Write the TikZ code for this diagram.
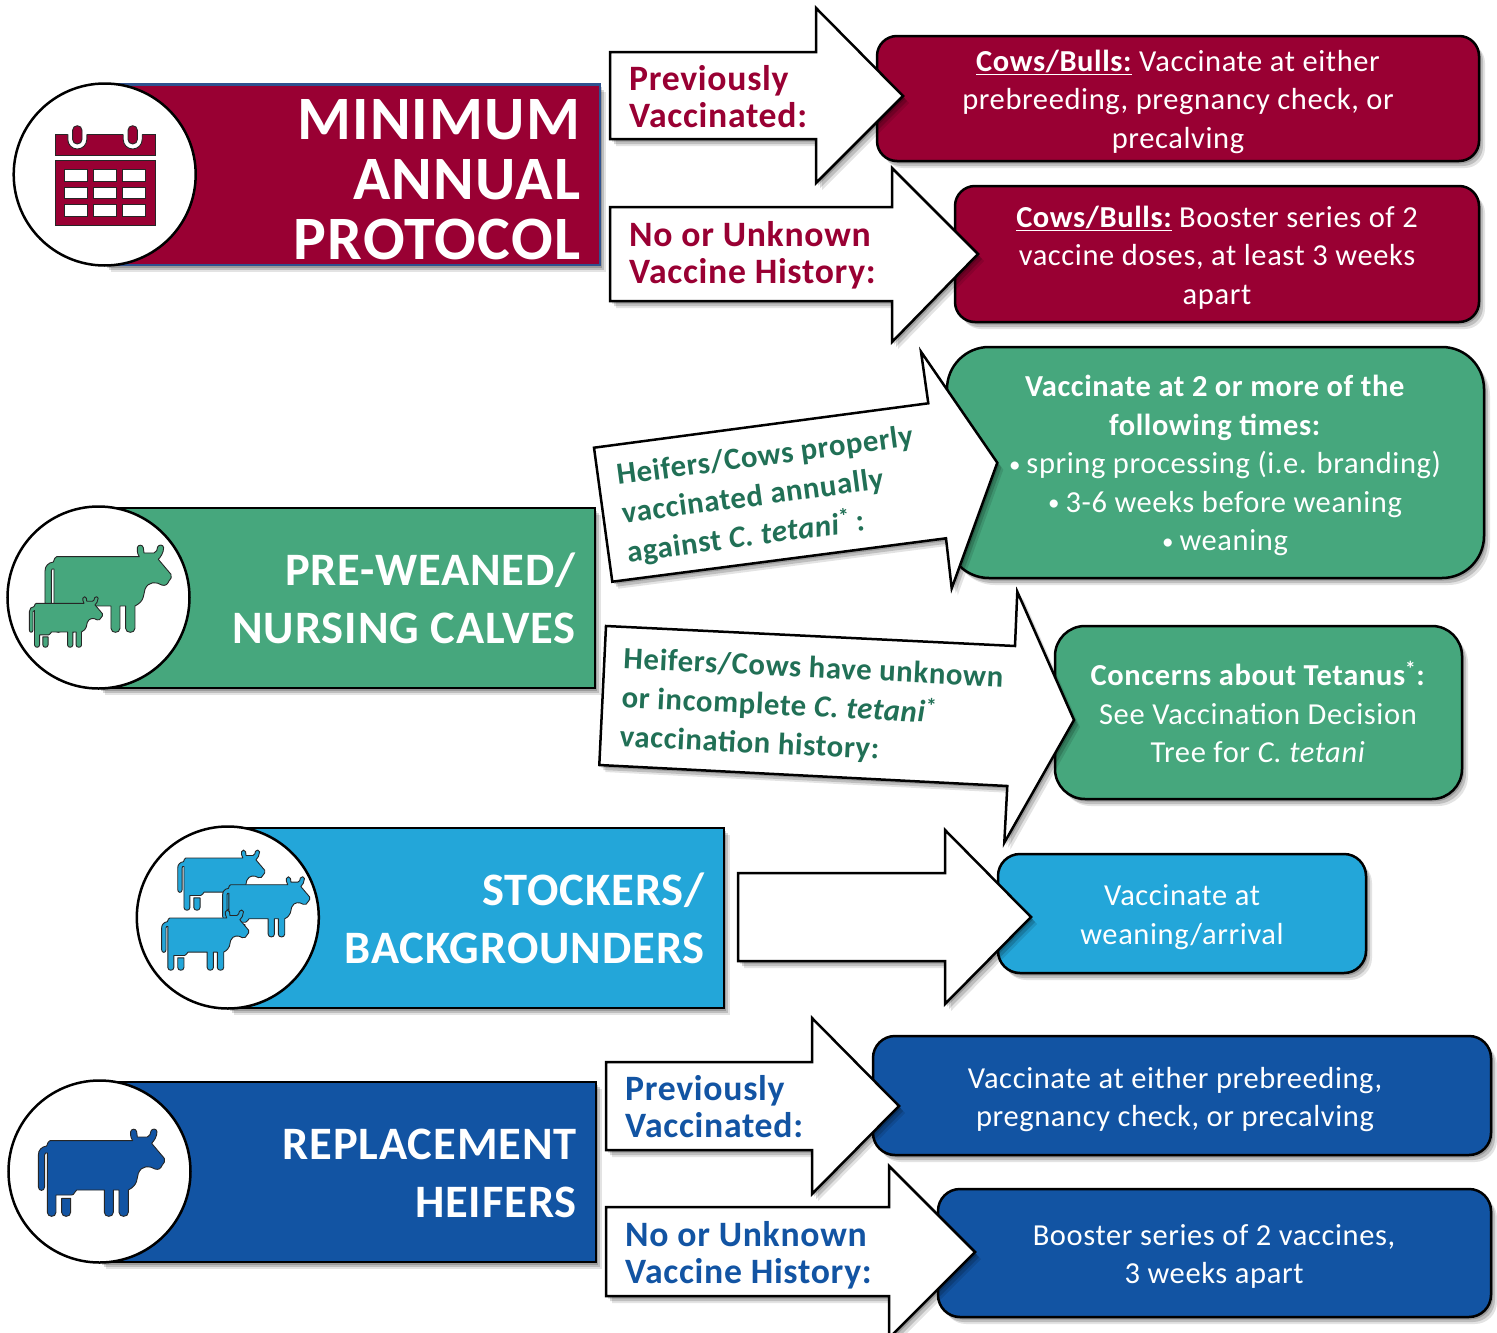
\documentclass[tikz,border=0pt]{standalone}
\usepackage{fontspec}
\setmainfont[LetterSpace=2]{Carlito}
\usetikzlibrary{shadows}
\definecolor{cred}{RGB}{153,0,51}
\definecolor{cgreen}{RGB}{70,167,125}
\definecolor{cgreentxt}{RGB}{33,112,86}
\definecolor{clight}{RGB}{35,166,217}
\definecolor{cdark}{RGB}{18,84,163}
\definecolor{cborder}{RGB}{47,82,143}
\tikzset{
  x=1pt,y=-1pt,
  softshadow/.style={
    general shadow={shadow xshift=2pt,shadow yshift=-2.5pt,fill=black,opacity=.18},
    general shadow={shadow xshift=4pt,shadow yshift=-5pt,fill=black,opacity=.16},
    general shadow={shadow xshift=6pt,shadow yshift=-7pt,fill=black,opacity=.11}},
  bar/.style={softshadow,draw=black,line width=2.5pt},
  disc/.style={draw=black,line width=2.5pt,fill=white},
  infobox/.style={softshadow,draw=black,line width=2.5pt},
  arrowshape/.style={softshadow,draw=black,line width=2.5pt,fill=white,line join=miter,miter limit=10},
  bartitle/.style={anchor=east,align=right,text=white,font=\bfseries\fontsize{46.5}{58}\selectfont,inner sep=0pt},
  boxtext/.style={align=center,text=white,font=\fontsize{30.5}{38.5}\selectfont,inner sep=0pt},
  arrowtext/.style={anchor=west,align=left,font=\bfseries\fontsize{35.7}{37}\selectfont,inner sep=0pt},
  slanttext/.style={anchor=west,align=left,text=cgreentxt,font=\bfseries\fontsize{30.8}{39}\selectfont,inner sep=0pt},
  iconline/.style={draw=black!85,line width=.9pt},
}
\newcommand{\cowicon}[4]{%
\begin{scope}[shift={(#1,#2)},scale=#3]
\draw[iconline,fill=#4,line join=round]
 (150,197) -- (398,197) .. controls (390,185) and (392,175) .. (392,170) .. controls (394,160) and (408,160) .. (410,170) -- (412,186) -- (442,186) .. controls (450,184) and (452,175) .. (453,168) .. controls (456,160) and (470,160) .. (471,170) .. controls (471,185) and (462,198) .. (455,205) -- (493,250) .. controls (497,258) and (492,265) .. (487,270) .. controls (482,282) and (475,285) .. (465,282) .. controls (450,272) and (425,270) .. (415,295) .. controls (410,310) and (415,330) .. (385,345) -- (385,412) .. controls (385,428) and (357,428) .. (357,412) -- (357,345) -- (340,345) -- (340,412) .. controls (340,428) and (313,428) .. (313,412) -- (313,345) -- (230,345) .. controls (222,348) and (225,360) .. (215,360) -- (168,360) -- (168,412) .. controls (168,428) and (142,428) .. (142,412) -- (142,234) .. controls (138,232) and (134,234) .. (134,240) -- (134,335) .. controls (134,350) and (115,350) .. (115,335) -- (115,240) .. controls (115,225) and (125,215) .. (140,213) .. controls (143,205) and (145,197) .. (150,197) -- cycle
 (185,370) -- (212,370) -- (212,412) .. controls (212,428) and (185,428) .. (185,412) -- cycle;
\end{scope}}
\newcommand{\calcell}[2]{\draw[iconline,fill=white] (#1,#2) rectangle ++(23,11.4);}
\newcommand{\bul}{\raisebox{1.5pt}{\fontsize{23}{23}\selectfont •}\hspace{6pt}}
\begin{document}
\begin{tikzpicture}
\useasboundingbox (0,0) rectangle (1497,1333);
\clip (0,0) rectangle (1497,1333);
\fill[white] (0,0) rectangle (1497,1333);

% header bars
\path[bar,fill=cred,draw=cborder] (105,84.5) rectangle (600,265);
\path[bar,fill=cgreen] (99,508) rectangle (595,688);
\path[bar,fill=clight] (228,828) rectangle (724,1008);
\path[bar,fill=cdark] (100,1082) rectangle (596,1262);
\draw[disc] (104.7,174.5) circle (91);
\draw[disc] (98.5,597.5) circle (91);
\draw[disc] (227.8,917.5) circle (91);
\draw[disc] (99.5,1171.5) circle (91);

% calendar icon
\draw[iconline,fill=cred] (55,134.3) rectangle (155,155);
\draw[iconline,fill=cred] (55,160.7) rectangle (155,225);
\foreach \cx in {64.3,93.7,122.7}{\foreach \cy in {169.7,187.3,204.7}{\calcell{\cx}{\cy}}}
\foreach \rx in {77.3,132.7}{
  \fill[white] (\rx-9.5,133) -- (\rx-9.5,139.5) arc[start angle=180,end angle=0,radius=9.5] -- (\rx+9.5,133) -- cycle;
  \draw[iconline] (\rx-9.5,134.3) -- (\rx-9.5,139.5) arc[start angle=180,end angle=0,radius=9.5] -- (\rx+9.5,134.3);
  \draw[iconline,fill=cred,rounded corners=4.6pt] (\rx-4.7,125.7) rectangle (\rx+4.7,144);
}

% cows
\cowicon{6.67}{491}{.3333}{cgreen}
\cowicon{7.1}{565.3}{.1933}{cgreen}
\cowicon{151.3}{812.7}{.23}{clight}
\cowicon{196.2}{839.4}{.23}{clight}
\cowicon{135.2}{872.7}{.23}{clight}
\cowicon{0}{1075}{.3333}{cdark}

% boxes
\path[infobox,fill=cred,rounded corners=20pt] (877,36) rectangle (1479,161);
\path[infobox,fill=cred,rounded corners=20pt] (955,186) rectangle (1479,322);
\path[infobox,fill=cgreen,rounded corners=42pt] (947,347) rectangle (1484,578);
\path[infobox,fill=cgreen,rounded corners=30pt] (1055,626) rectangle (1462,799);
\path[infobox,fill=clight,rounded corners=22pt] (998,854) rectangle (1366,973);
\path[infobox,fill=cdark,rounded corners=22pt] (873,1036) rectangle (1491,1155);
\path[infobox,fill=cdark,rounded corners=22pt] (938,1189) rectangle (1491,1317);

% block arrows
\path[arrowshape] (610,52) -- (816,52) -- (816,8) -- (903,96) -- (816,183) -- (816,139) -- (610,139) -- cycle;
\path[arrowshape] (610,207) -- (892,207) -- (892,168) -- (978,254) -- (892,342) -- (892,301) -- (610,301) -- cycle;
\path[arrowshape] (594,447.7) -- (928.3,403.3) -- (921,351.7) -- (997.3,462.7) -- (951.7,588.3) -- (946,538.3) -- (612.3,581.7) -- cycle;
\path[arrowshape] (606,626) -- (1015,646) -- (1017.3,591.7) -- (1074,720) -- (1004.3,842.7) -- (1007.3,786) -- (599.3,765) -- cycle;
\path[arrowshape] (738,873) -- (945,873) -- (945,830) -- (1031,917) -- (945,1004) -- (945,961) -- (738,961) -- cycle;
\path[arrowshape] (606,1062) -- (812,1062) -- (812,1018) -- (899,1106) -- (812,1194) -- (812,1150) -- (606,1150) -- cycle;
\path[arrowshape] (606,1207) -- (889,1207) -- (889,1166) -- (975,1252) -- (889,1338) -- (889,1296) -- (606,1296) -- cycle;

% titles
\node[bartitle,font=\bfseries\fontsize{61.7}{60}\selectfont] (t1) at (580.5,179.5) {MINIMUM\\ANNUAL\\PROTOCOL};
\node[bartitle] (t2) at (576,598) {PRE-WEANED/\\NURSING CALVES};
\node[bartitle] (t3) at (705,918) {STOCKERS/\\BACKGROUNDERS};
\node[bartitle] (t4) at (577,1173) {REPLACEMENT\\HEIFERS};

% arrow labels
\node[arrowtext,text=cred] (a1) at (629,96.5) {Previously\\Vaccinated:};
\node[arrowtext,text=cred] (a2) at (629,255.5) {No or Unknown\\Vaccine History:};
\node[slanttext,rotate=7.6] (a3) at (622,515.5) {Heifers/Cows properly\\vaccinated annually\\against \textit{C. tetani}\textsuperscript{*}\,:};
\node[slanttext,rotate=-2.8] (a4) at (621.5,699) {Heifers/Cows have unknown\\or incomplete \textit{C. tetani}\textsuperscript{*}\\vaccination history:};
\node[arrowtext,text=cdark] (a5) at (625,1107) {Previously\\Vaccinated:};
\node[arrowtext,text=cdark] (a6) at (625,1255.5) {No or Unknown\\Vaccine History:};

% box texts
\node[boxtext] (b1) at (1178,101.5) {\textbf{\underline{Cows/Bulls:}} Vaccinate at either\\prebreeding, pregnancy check, or\\precalving};
\node[boxtext] (b2) at (1217,257.5) {\textbf{\underline{Cows/Bulls:}} Booster series of 2\\vaccine doses, at least 3 weeks\\apart};
\node[boxtext] (b3) at (1215,465.5) {\textbf{Vaccinate at 2 or more of the}\\\textbf{following times:}\\\hspace*{20pt}\bul spring processing (i.e. branding)\\\hspace*{20pt}\bul 3-6 weeks before weaning\\\hspace*{20pt}\bul weaning};
\node[boxtext] (b4) at (1258,712) {\textbf{Concerns about Tetanus\textsuperscript{*}:}\\See Vaccination Decision\\Tree for \textit{C. tetani}};
\node[boxtext] (b5) at (1182,917) {Vaccinate at\\weaning/arrival};
\node[boxtext] (b6) at (1175,1099.5) {Vaccinate at either prebreeding,\\pregnancy check, or precalving};
\node[boxtext] (b7) at (1214,1256.5) {Booster series of 2 vaccines,\\3 weeks apart};
\end{tikzpicture}
\end{document}
